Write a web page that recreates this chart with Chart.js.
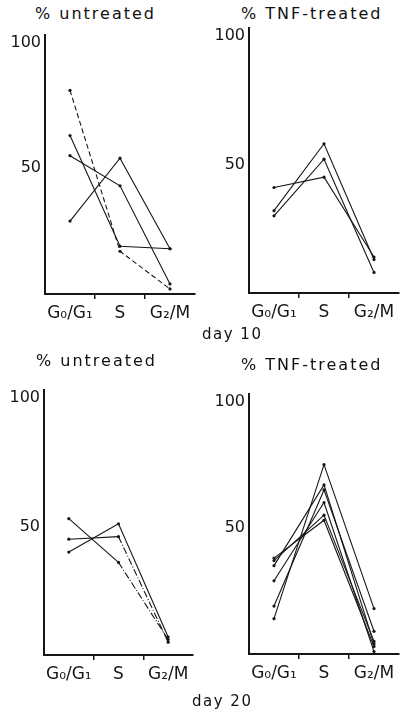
<!DOCTYPE html>
<html>
<head>
<meta charset="utf-8">
<script src="https://cdn.jsdelivr.net/npm/chart.js@4/dist/chart.umd.min.js"></script>
<style>
  body { margin: 0; background: #fff; }
  #page { position: relative; width: 403px; height: 711px; overflow: hidden; }
  canvas { position: absolute; }
  .lbl { position: absolute; font-family: "DejaVu Sans", sans-serif; font-size: 15px;
         letter-spacing: 1.5px; color: #111; white-space: nowrap; line-height: 18px; }
  .ttl { font-size: 16px; letter-spacing: 2px; }
</style>
</head>
<body>
<div id="page">
  <canvas id="c1"></canvas>
  <canvas id="c2"></canvas>
  <canvas id="c3"></canvas>
  <canvas id="c4"></canvas>
  <div class="lbl ttl" style="left:35px;top:5px">% untreated</div>
  <div class="lbl ttl" style="left:241px;top:5px">% TNF-treated</div>
  <div class="lbl" style="left:202px;top:325px">day 10</div>
  <div class="lbl ttl" style="left:36px;top:352px">% untreated</div>
  <div class="lbl ttl" style="left:241px;top:356px">% TNF-treated</div>
  <div class="lbl" style="left:192px;top:692px">day 20</div>
</div>
<script>
// cell cycle phases on the x axis, % of cells on y
const phases = ['G\u2080/G\u2081', 'S', 'G\u2082/M'];
const yTickValues = [50, 100];
const yMax = 103;

// day 10, one row per experiment
const day10Untreated = [
  [63, 19, 18],
  [55, 43, 4],
  [29, 54, 18],
  [81, 17, 2]
];
const day10Tnf = [
  [41, 45, 14],
  [32, 58, 13],
  [30, 52, 8]
];
// day 20
const day20Untreated = [
  [45, 46, 5],
  [40, 51, 7],
  [53, 36, 6]
];
const day20Tnf = [
  [38, 53, 3],
  [37, 55, 5],
  [35, 67, 4],
  [29, 60, 1],
  [19, 65, 9],
  [14, 75, 18]
];

// which rows are drawn dashed (whole line or last segment only)
const dashedRows = { c1: [3] };
const dashedLastSegment = { c3: [0, 2] };

const INK = '#161616';
const FONT = 'DejaVu Sans';

function makePanel(id, rows, geo) {
  const canvas = document.getElementById(id);
  const yAxisW = 44, xAxisH = 40;
  const left = geo.axisX - yAxisW;
  const top = geo.y0 - yMax * geo.unit;
  const w = Math.round(geo.right - left);
  const h = Math.round(yMax * geo.unit + xAxisH);
  canvas.width = w; canvas.height = h;
  canvas.style.left = left + 'px';
  canvas.style.top = Math.round(top) + 'px';
  canvas.style.width = w + 'px';
  canvas.style.height = h + 'px';

  const datasets = rows.map((vals, i) => {
    const dashAll = (dashedRows[id] || []).includes(i);
    const dashLast = (dashedLastSegment[id] || []).includes(i);
    return {
      data: vals,
      borderColor: INK,
      borderWidth: 1.1,
      borderDash: dashAll ? [5, 3] : [],
      pointRadius: 1.6,
      pointBackgroundColor: INK,
      pointBorderWidth: 0,
      tension: 0,
      segment: dashLast ? { borderDash: c => c.p0DataIndex === 1 ? [7, 2, 1, 2] : undefined } : {}
    };
  });

  new Chart(canvas, {
    type: 'line',
    data: { labels: phases, datasets: datasets },
    options: {
      responsive: false,
      animation: false,
      layout: { padding: 0 },
      plugins: { legend: { display: false }, tooltip: { enabled: false } },
      scales: {
        x: {
          type: 'category',
          offset: true,
          grid: {
            display: true,
            drawOnChartArea: false,
            offset: true,
            tickLength: 5,
            lineWidth: 1.5,
            color: c => (c.index === 1 || c.index === 2) ? INK : 'rgba(0,0,0,0)'
          },
          border: { display: true, color: INK, width: 2 },
          ticks: { color: INK, padding: 4, maxRotation: 0, autoSkip: false,
                   font: { family: FONT, size: 17 } },
          afterFit: s => { s.height = xAxisH; s.paddingLeft = 0; s.paddingRight = 0; }
        },
        y: {
          min: 0,
          max: yMax,
          grid: { display: false, drawTicks: false },
          border: { display: true, color: INK, width: 2 },
          afterBuildTicks: s => { s.ticks = yTickValues.map(v => ({ value: v })); },
          ticks: { color: INK, padding: 4, font: { family: FONT, size: 16 } },
          afterFit: s => { s.width = yAxisW; s.paddingTop = 0; s.paddingBottom = 0; }
        }
      }
    }
  });
}

makePanel('c1', day10Untreated, { axisX: 45, right: 199, y0: 294, unit: 2.553 });
makePanel('c2', day10Tnf, { axisX: 249, right: 403, y0: 293, unit: 2.61 });
makePanel('c3', day20Untreated, { axisX: 44, right: 197, y0: 655, unit: 2.61 });
makePanel('c4', day20Tnf, { axisX: 249, right: 403, y0: 654, unit: 2.56 });
</script>
</body>
</html>
